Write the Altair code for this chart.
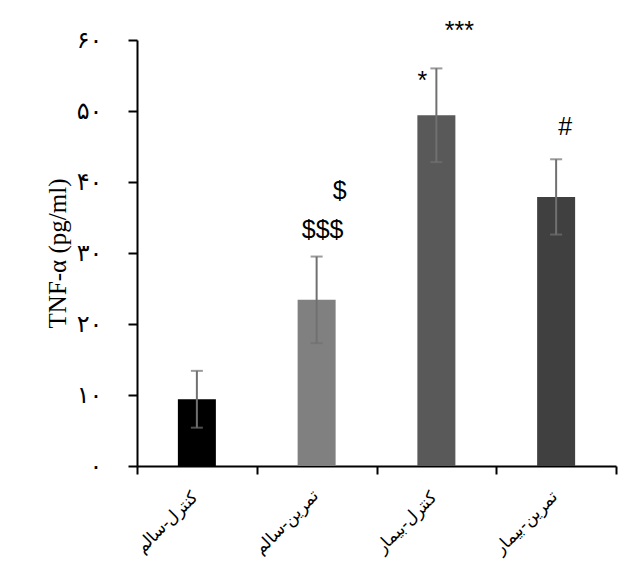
import altair as alt
import pandas as pd

categories = ["کنترل-سالم", "تمرین-سالم", "کنترل-بیمار", "تمرین-بیمار"]
means = [9.4, 23.4, 49.4, 37.9]
errors = [4.0, 6.1, 6.6, 5.3]
bar_colors = ["#000000", "#808080", "#595959", "#404040"]

y_ticks = [0, 10, 20, 30, 40, 50, 60]
y_tick_labels = ["۰", "۱۰", "۲۰", "۳۰", "۴۰", "۵۰", "۶۰"]

ann_text = ["$$$", "$", "*", "***", "#"]
ann_cat = [categories[1], categories[1], categories[2], categories[2], categories[3]]
ann_y = [33.2, 38.7, 54.2, 61.2, 47.7]
ann_dx = [6, 23, -14, 23, 9]

df = pd.DataFrame({
    "group": categories,
    "mean": means,
    "lo": [m - e for m, e in zip(means, errors)],
    "hi": [m + e for m, e in zip(means, errors)],
})

label_expr = "[" + ",".join("'" + s + "'" for s in y_tick_labels) + "][indexof(" + str(y_ticks) + ", datum.value)]"

y_scale = alt.Scale(domain=[0, 60], nice=False)

x_axis = alt.Axis(
    title=None, tickBand="extent", labels=False, grid=False,
    domainColor="#000000", domainWidth=2, tickColor="#000000", tickWidth=2, tickSize=8,
)
y_axis = alt.Axis(
    title="TNF-α (pg/ml)", values=y_ticks, labelExpr=label_expr, grid=False,
    labelFont="DejaVu Sans", labelFontSize=24, labelPadding=26, labelColor="#000000",
    titleFont="Liberation Serif", titleFontSize=25, titleFontWeight="normal",
    titlePadding=6, titleColor="#000000",
    domainColor="#000000", domainWidth=2, tickColor="#000000", tickWidth=2, tickSize=9,
)


def x_enc():
    return alt.X("group:N", sort=categories,
                 scale=alt.Scale(paddingInner=0, paddingOuter=0), axis=x_axis)


def y_enc(field):
    return alt.Y(field, scale=y_scale, axis=y_axis)


base = alt.Chart(df)

bars = base.mark_bar(size=38).encode(
    x=x_enc(),
    y=y_enc("mean:Q"),
    color=alt.Color("group:N", scale=alt.Scale(domain=categories, range=bar_colors), legend=None),
)

rules = base.mark_rule(color="#707070", strokeWidth=2).encode(
    x=x_enc(), y=y_enc("lo:Q"), y2="hi:Q",
)
caps_hi = base.mark_tick(color="#707070", thickness=2, size=12).encode(
    x=x_enc(), y=y_enc("hi:Q"),
)
caps_lo = base.mark_tick(color="#707070", thickness=2, size=12).encode(
    x=x_enc(), y=y_enc("lo:Q"),
)

# category labels, rotated 45 degrees below the x axis (offsets are in the rotated frame)
xlabels = base.mark_text(angle=315, dx=-61, dy=19, fontSize=17, color="black").encode(
    x=x_enc(),
    y=alt.datum(0, scale=y_scale),
    text="group:N",
)

layers = [bars, rules, caps_hi, caps_lo, xlabels]
for t, c, yv, dx in zip(ann_text, ann_cat, ann_y, ann_dx):
    adf = pd.DataFrame({"group": [c], "v": [yv], "label": [t]})
    layers.append(
        alt.Chart(adf).mark_text(
            font="Liberation Sans", fontSize=25, color="black", dx=dx,
        ).encode(
            x=x_enc(),
            y=y_enc("v:Q"),
            text="label:N",
        )
    )

chart = alt.layer(*layers).properties(
    width=479,
    height=426,
    autosize=alt.AutoSizeParams(type="none"),
    padding={"left": 129, "top": 32, "right": 10, "bottom": 100},
).configure_view(stroke=None)

chart.save("out.html", embed_options={"renderer": "svg", "actions": False})
